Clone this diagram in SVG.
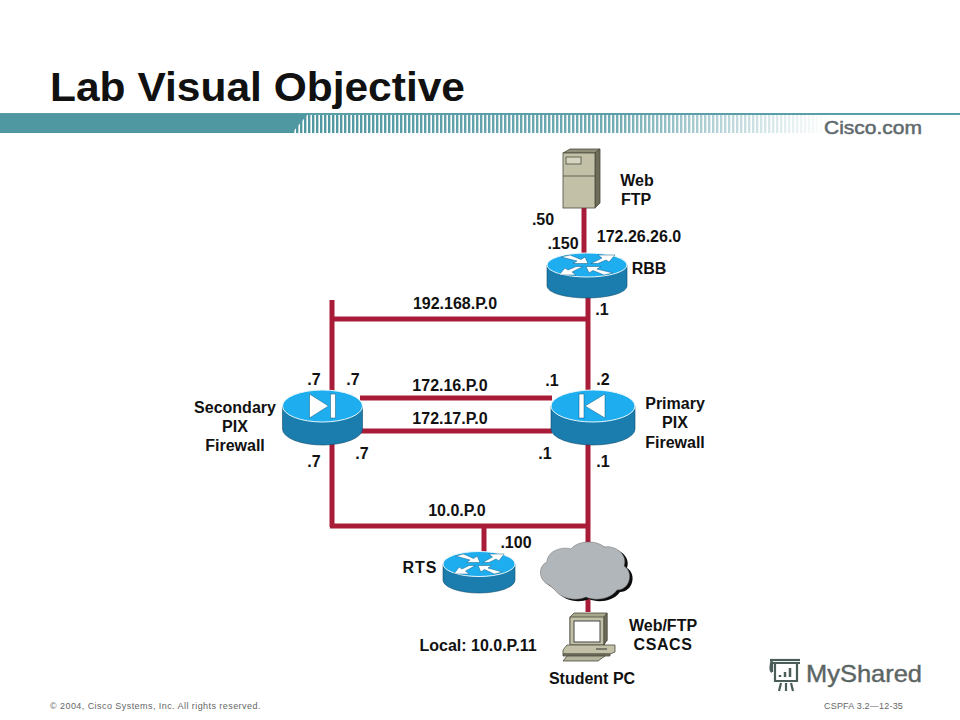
<svg xmlns="http://www.w3.org/2000/svg" width="960" height="720" viewBox="0 0 960 720">
<style>
text{font-family:"Liberation Sans",Arial,sans-serif;fill:#111}
.l{font-size:16px;font-weight:bold;text-anchor:middle}
.f{font-size:9px;fill:#666}
.w{stroke:#a81c38;stroke-width:5;fill:none}
.side{fill:#1a7dae;stroke:#0d4a6c;stroke-width:.6}
.top{fill:#1eaef0;stroke:#e6f6fd;stroke-width:1}
.wh{fill:#fff;stroke:#0a5a80;stroke-width:.5}
.sv{stroke:#4a4a3c;stroke-width:.8}
</style>
<defs>
<pattern id="st" width="4" height="20" patternUnits="userSpaceOnUse" x="300" y="114"><rect width="2.4" height="20" fill="#4f97a1"/></pattern>
<linearGradient id="fd" x1="0" x2="1" y1="0" y2="0"><stop offset="0" stop-color="#fff" stop-opacity="0"/><stop offset=".6" stop-color="#fff" stop-opacity=".2"/><stop offset="1" stop-color="#fff" stop-opacity="1"/></linearGradient>
<g id="half"><path class="wh" d="M-26 -8L-17 -10L-6 -5.500L-2 -8L1 -1.500L-14 -1.500L-10 -4Z"/><path class="wh" d="M4 -1.500L15 -7L11 -10L28 -10L22 -3L19 -5L11 -1.500Z"/></g>
<g id="arrows"><use href="#half"/><use href="#half" transform="rotate(180)"/></g>
</defs>
<rect width="960" height="720" fill="#fff"/>
<text x="50" y="101" font-size="40" font-weight="bold" textLength="415" lengthAdjust="spacingAndGlyphs">Lab Visual Objective</text>
<g id="banner">
<rect x="0" y="113" width="960" height="2" fill="#5a9ea8"/>
<path d="M0 114H308L292 133H0Z" fill="#4f97a1"/>
<path d="M306 115H830V133H291Z" fill="url(#st)"/>
<rect x="290" y="115" width="540" height="18" fill="url(#fd)"/>
<text x="824" y="134" font-size="18" style="fill:#5f6a6e;stroke:#5f6a6e;stroke-width:.5" textLength="98" lengthAdjust="spacingAndGlyphs">Cisco.com</text>
</g>
<g id="connectors">
<path class="w" d="M584 206V254"/>
<path class="w" d="M588 296V612"/>
<path class="w" d="M332 300V527M330 319H588M330 526H588M484 526V553M360 398H552M360 431H552"/>
</g>
<g id="server-web-ftp">
<path d="M563 153L570 149H600L595 153Z" fill="#8f8e78" class="sv"/>
<path d="M595 153L600 149V203L595 208Z" fill="#6e6d5a" class="sv"/>
<rect x="563" y="153" width="32" height="55" fill="#c2c1a8" class="sv"/>
<path d="M563 176H595" class="sv"/>
<rect x="566" y="157" width="15" height="7" fill="#d6d5c2" class="sv"/>
<text class="l" x="637" y="186">Web</text><text class="l" x="636" y="205">FTP</text>
</g>
<g id="router-rbb" transform="translate(587 265)">
<path class="side" d="M-40 0V21A40 12 0 0 0 40 21V0Z"/><ellipse class="top" rx="40" ry="12"/><use href="#arrows"/>
<text class="l" x="62" y="9">RBB</text>
</g>
<g id="pix-secondary" transform="translate(322.5 406)">
<path class="side" d="M-40 0V23A40 16 0 0 0 40 23V0Z"/><ellipse class="top" rx="40" ry="16"/>
<path d="M-13 -12V12L6 0Z" class="wh"/><rect x="8" y="-12" width="5" height="24" class="wh"/>
</g>
<g id="pix-primary" transform="translate(593 406)">
<path class="side" d="M-42 0V23A42 16 0 0 0 42 23V0Z"/><ellipse class="top" rx="42" ry="16"/>
<path d="M12 -12V12L-8 0Z" class="wh"/><rect x="-14" y="-12" width="5" height="24" class="wh"/>
</g>
<g id="router-rts" transform="translate(479 564)">
<path class="side" d="M-36 0V16A36 13 0 0 0 36 16V0Z"/><ellipse class="top" rx="36" ry="12.5"/><g transform="scale(.9 1)"><use href="#arrows"/></g>
</g>
<g id="cloud">
<path d="M549 585C538 580 538 566 547 562C547 551 562 546 571 549C578 540 597 540 604 547C616 545 628 555 624 566C634 572 630 590 617 590C610 600 594 601 586 597C575 602 560 598 555 590C553 588 551 587 549 585Z" fill="#0c0c0c" transform="translate(3 2)"/>
<path d="M549 585C538 580 538 566 547 562C547 551 562 546 571 549C578 540 597 540 604 547C616 545 628 555 624 566C634 572 630 590 617 590C610 600 594 601 586 597C575 602 560 598 555 590C553 588 551 587 549 585Z" fill="#b1b6ba" stroke="#666" stroke-width=".5"/>
</g>
<g id="student-pc">
<path d="M570 617L574 613H607V641H603L570 644Z" fill="#a8a78c" class="sv"/>
<rect x="570" y="617" width="34" height="28" fill="#c2c1a8" class="sv"/>
<path d="M604 617L607 613V640L604 645Z" fill="#6e6d5a" class="sv"/>
<rect x="574" y="621" width="26" height="21" fill="#fff" stroke="#444" stroke-width="1"/>
<path d="M563 650L567 645H615L615 652L610 654H563Z" fill="#c2c1a8" class="sv"/>
<path d="M563 654H610V656H563Z" fill="#7e7d68" class="sv"/>
<path d="M596 649H607" stroke="#333" stroke-width="1"/>
<path d="M567 656H605L598 661H563Z" fill="#b5b49c" class="sv"/>
</g>
<g id="labels">
<text class="l" x="543" y="225">.50</text>
<text class="l" x="563" y="249">.150</text>
<text class="l" x="639" y="242">172.26.26.0</text>
<text class="l" x="455" y="309">192.168.P.0</text>
<text class="l" x="602" y="315">.1</text>
<text class="l" x="314" y="385">.7</text>
<text class="l" x="353" y="385">.7</text>
<text class="l" x="450" y="391">172.16.P.0</text>
<text class="l" x="552" y="386">.1</text>
<text class="l" x="603" y="385">.2</text>
<text class="l" x="450" y="424">172.17.P.0</text>
<text class="l" x="314" y="467">.7</text>
<text class="l" x="362" y="459">.7</text>
<text class="l" x="545" y="459">.1</text>
<text class="l" x="603" y="467">.1</text>
<text class="l" x="235" y="413">Secondary</text><text class="l" x="235" y="432">PIX</text><text class="l" x="235" y="451">Firewall</text>
<text class="l" x="675" y="409">Primary</text><text class="l" x="675" y="428">PIX</text><text class="l" x="675" y="448">Firewall</text>
<text class="l" x="457" y="516">10.0.P.0</text>
<text class="l" x="516" y="548">.100</text>
<text class="l" x="420" y="573" style="letter-spacing:1px">RTS</text>
<text class="l" x="478" y="651">Local: 10.0.P.11</text>
<text class="l" x="663" y="631">Web/FTP</text>
<text class="l" x="663" y="650" style="letter-spacing:.6px">CSACS</text>
<text class="l" x="592" y="684">Student PC</text>
</g>
<g id="footer">
<text class="f" x="50" y="709" style="letter-spacing:.44px">© 2004, Cisco Systems, Inc. All rights reserved.</text>
<text class="f" x="824" y="709" style="letter-spacing:.2px">CSPFA 3.2—12-35</text>
</g>
<g id="watermark">
<g fill="none" stroke="#4a5d58" stroke-width="2.2">
<path d="M772 663H800M775 663V681H797V663M772 663V672M772 660C770 665 770 671 772 672"/>
<path d="M770 660H800"/>
<path d="M781 683L779 691M786 683V691M791 683L793 691"/>
<path d="M780 677V675M785 677V672M790 677V668" stroke-width="2.5"/>
</g>
<text x="806" y="682" font-size="24" style="fill:#5b6664;stroke:#5b6664;stroke-width:.4" textLength="116" lengthAdjust="spacingAndGlyphs">MyShared</text>
</g>
</svg>
